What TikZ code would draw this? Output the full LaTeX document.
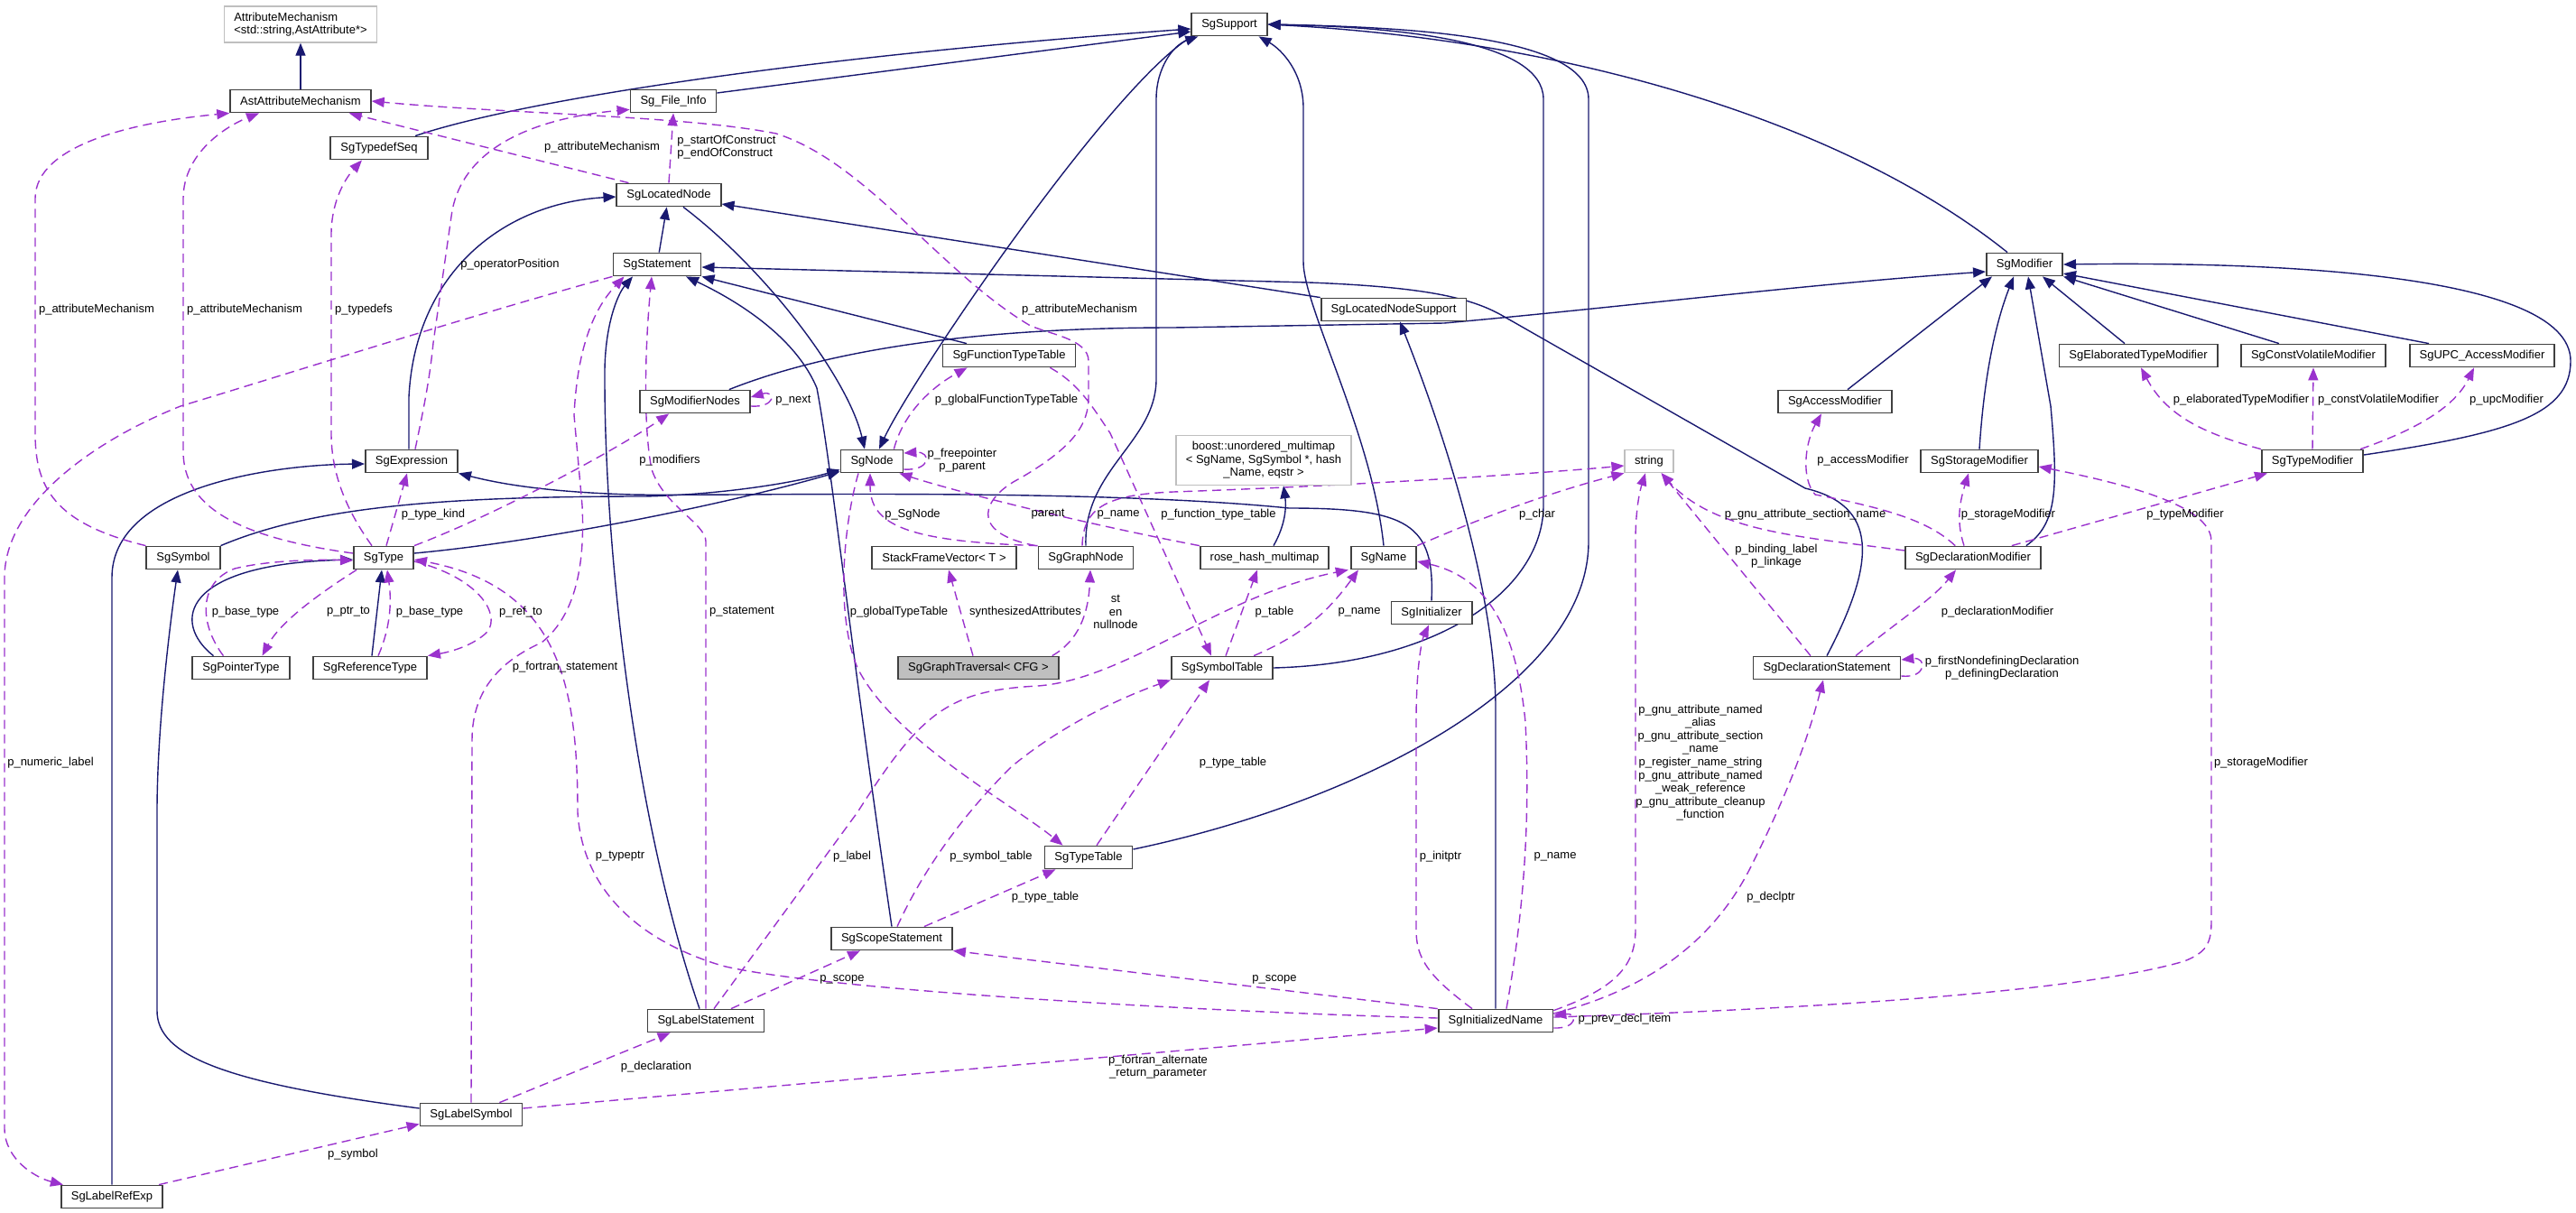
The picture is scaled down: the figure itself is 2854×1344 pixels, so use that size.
\documentclass[tikz,border=0pt]{standalone}
\usepackage{fontspec}
\setmainfont{Liberation Sans}
\usetikzlibrary{arrows.meta,calc,backgrounds}

\definecolor{inhblue}{HTML}{191970}
\definecolor{usepurple}{HTML}{9A32CD}
\definecolor{boxgray}{HTML}{BFBFBF}

\tikzset{
  cls/.style={draw=black!75, line width=0.9pt, fill=white, minimum height=12.5pt,
    inner xsep=5.5pt, inner ysep=0pt, font=\fontsize{6.5}{7.3}\selectfont},
  extcls/.style={cls, draw=boxgray, line width=0.7pt, align=left},
  inh/.style={color=inhblue, line width=0.7pt, -{Triangle[length=7pt,width=5.5pt]}},
  usage/.style={color=usepurple, line width=0.7pt, dash pattern=on 5pt off 3pt,
    -{Triangle[length=7pt,width=5.5pt]}},
  lbl/.style={font=\fontsize{6.5}{7.3}\selectfont, inner sep=0pt, align=center},
}

\begin{document}
\begin{tikzpicture}[x=0.5pt,y=-0.5pt]
\useasboundingbox (0,0) rectangle (2854,1344);

\node[extcls, minimum height=20pt] (attrmech) at (333,27) {AttributeMechanism\\<std::string,AstAttribute*>};
\node[cls] (astattr) at (333,112) {AstAttributeMechanism};
\node[cls] (typedefseq) at (420,164) {SgTypedefSeq};
\node[cls] (fileinfo) at (746,112) {Sg\_File\_Info};
\node[cls] (support) at (1362,27) {SgSupport};
\node[cls] (locnode) at (741,216) {SgLocatedNode};
\node[cls] (stmt) at (728,293) {SgStatement};
\node[cls] (locsupport) at (1544,343) {SgLocatedNodeSupport};
\node[cls] (modifier) at (2243,293) {SgModifier};
\node[cls] (functypetab) at (1118,394) {SgFunctionTypeTable};
\node[cls] (elabmod) at (2369,394) {SgElaboratedTypeModifier};
\node[cls] (cvmod) at (2563,394) {SgConstVolatileModifier};
\node[cls] (upcmod) at (2750,394) {SgUPC\_AccessModifier};
\node[cls] (modnodes) at (770,445) {SgModifierNodes};
\node[cls] (accmod) at (2033,445) {SgAccessModifier};
\node[cls] (expr) at (456,511) {SgExpression};
\node[cls] (sgnode) at (966,511) {SgNode};
\node[extcls, align=center, minimum height=27.5pt] (boostmap) at (1400,510) {boost::unordered\_multimap\\< SgName, SgSymbol *, hash\\\_Name, eqstr >};
\node[extcls] (string) at (1827,511) {string};
\node[cls] (storagemod) at (2193,511) {SgStorageModifier};
\node[cls] (typemod) at (2562,511) {SgTypeModifier};
\node[cls] (symbol) at (203,618) {SgSymbol};
\node[cls] (type) at (425,618) {SgType};
\node[cls] (stackvec) at (1046,618) {StackFrameVector< T >};
\node[cls] (graphnode) at (1203,618) {SgGraphNode};
\node[cls] (rosehash) at (1401,618) {rose\_hash\_multimap};
\node[cls] (name) at (1533,618) {SgName};
\node[cls] (declmod) at (2186,618) {SgDeclarationModifier};
\node[cls] (initializer) at (1586,679) {SgInitializer};
\node[cls] (ptrtype) at (267,740) {SgPointerType};
\node[cls] (reftype) at (410,740) {SgReferenceType};
\node[cls, fill=boxgray] (traversal) at (1084,740) {SgGraphTraversal< CFG >};
\node[cls] (symtab) at (1354,740) {SgSymbolTable};
\node[cls] (declstmt) at (2024,740) {SgDeclarationStatement};
\node[cls] (typetab) at (1206,950) {SgTypeTable};
\node[cls] (scopestmt) at (988,1040) {SgScopeStatement};
\node[cls] (labelstmt) at (782,1131) {SgLabelStatement};
\node[cls] (initname) at (1657,1131) {SgInitializedName};
\node[cls] (labelsym) at (522,1235) {SgLabelSymbol};
\node[cls] (labelref) at (124,1326) {SgLabelRefExp};

\begin{scope}[on background layer]
\draw[inh] (astattr) -- (attrmech);
\draw[inh] ($(typedefseq.north)+(40,0)$) .. controls (580,110) and (900,62) .. ($(support.west)+(0,5)$);
\draw[inh] ($(fileinfo.east)+(0,-9)$) -- ($(support.west)+(0,8)$);
\draw[inh] (stmt) -- (locnode);
\draw[inh] ($(locnode.south)+(16,0)$) .. controls (850,300) and (940,420) .. ($(sgnode.north)+(-8,0)$);
\draw[inh] ($(support.south west)+(1,0)$) .. controls (1230,95) and (1010,420) .. ($(sgnode.north)+(8,0)$);
\draw[inh] (graphnode.north) .. controls (1200,520) and (1281,490) .. (1281,420) -- (1281,110) .. controls (1281,75) and (1300,50) .. ($(support.south west)+(8,0)$);
\draw[inh] (name.north) .. controls (1520,480) and (1444,340) .. (1444,290) -- (1444,120) .. controls (1444,80) and (1420,55) .. ($(support.south east)+(-10,0)$);
\draw[inh] ($(modifier.north)+(-19,0)$) .. controls (2050,140) and (1750,45) .. (support.east);
\draw[inh] (symtab.east) .. controls (1600,735) and (1710,650) .. (1710,560) -- (1710,110) .. controls (1710,45) and (1550,30) .. (support.east);
\draw[inh] ($(typetab.east)+(0,-9)$) .. controls (1500,890) and (1760,760) .. (1760,600) -- (1760,110) .. controls (1760,40) and (1560,30) .. (support.east);
\draw[inh] (declstmt.north) .. controls (2080,620) and (2080,560) .. (2000,541) -- (1665,350) .. controls (1630,330) and (1580,318) .. (1450,313) -- ($(stmt.east)+(0,3)$);
\draw[inh] ($(functypetab.north)+(-47,0)$) -- (stmt.south east);
\draw[inh] (scopestmt.north) .. controls (940,700) and (922,520) .. (905,430) .. controls (880,370) and (810,330) .. ($(stmt.south)+(32,0)$);
\draw[inh] ($(labelstmt.north)+(-7,0)$) .. controls (700,900) and (670,600) .. (670,420) .. controls (669,360) and (685,325) .. ($(stmt.south)+(-27,0)$);
\draw[inh] ($(expr.north)+(-3,0)$) -- (453,440) .. controls (460,300) and (560,225) .. ($(locnode.west)+(0,2)$);
\draw[inh] (locsupport.north west) -- ($(locnode.east)+(0,10)$);
\draw[inh] ($(modnodes.north east)+(-24,0)$) .. controls (900,395) and (1050,363) .. (1300,363) -- (1600,358) .. controls (1800,340) and (2000,315) .. ($(modifier.west)+(0,8)$);
\draw[inh] ($(accmod.north)+(14,0)$) -- ($(modifier.south west)+(7,0)$);
\draw[inh] (storagemod.north) .. controls (2198,420) and (2210,360) .. ($(modifier.south)+(-12,0)$);
\draw[inh] ($(declmod.north east)+(-17,0)$) .. controls (2280,580) and (2280,540) .. (2272,450) -- ($(modifier.south)+(4,0)$);
\draw[inh] ($(elabmod.north)+(-15,0)$) -- ($(modifier.south east)+(-23,0)$);
\draw[inh] ($(cvmod.north)+(-38,0)$) -- (modifier.south east);
\draw[inh] ($(upcmod.north)+(-59,0)$) -- ($(modifier.east)+(0,10)$);
\draw[inh] ($(typemod.east)+(0,-7)$) .. controls (2780,480) and (2848,460) .. (2848,400) .. controls (2848,300) and (2500,290) .. (modifier.east);
\draw[inh] (symbol.north east) .. controls (350,560) and (500,550) .. (714,550) .. controls (800,548) and (880,535) .. ($(sgnode.south west)+(0,-4)$);
\draw[inh] ($(type.east)+(0,-5)$) .. controls (600,600) and (800,560) .. ($(sgnode.south west)+(0,-2)$);
\draw[inh] ($(ptrtype.north west)+(24,0)$) .. controls (190,690) and (200,625) .. ($(type.west)+(0,2)$);
\draw[inh] ($(reftype.north)+(2,0)$) -- ($(type.south)+(-2,0)$);
\draw[inh] ($(labelsym.west)+(0,-7)$) .. controls (250,1200) and (174,1170) .. (174,1120) -- (174,900) .. controls (174,800) and (190,680) .. ($(symbol.south)+(-6,0)$);
\draw[inh] (labelref.north) -- (124,640) .. controls (124,540) and (300,515) .. ($(expr.west)+(0,3)$);
\draw[inh] (initializer.north) .. controls (1590,580) and (1560,563) .. (1428,563) .. controls (1200,540) and (800,550) .. (700,548) .. controls (600,545) and (550,535) .. (expr.south east);
\draw[inh] (initname.north) -- (1657,780) .. controls (1655,650) and (1600,480) .. ($(locsupport.south)+(7,0)$);
\draw[inh] ($(rosehash.north)+(10,0)$) .. controls (1425,580) and (1425,560) .. ($(boostmap.south)+(22,0)$);

\draw[usage] (symbol.north west) .. controls (60,580) and (39,540) .. (39,480) -- (39,220) .. controls (39,160) and (150,135) .. (astattr.south west);
\draw[usage] ($(type.west)+(0,-5)$) .. controls (260,595) and (203,560) .. (203,500) -- (203,220) .. controls (203,170) and (250,140) .. ($(astattr.south)+(-46,0)$);
\draw[usage] ($(type.north)+(-13,0)$) .. controls (380,560) and (367,520) .. (367,480) -- (367,260) .. controls (367,220) and (385,195) .. ($(typedefseq.south)+(-19,0)$);
\draw[usage] ($(expr.north)+(4,0)$) .. controls (470,450) and (476,420) .. (480,380) -- (500,240) .. controls (510,160) and (600,130) .. ($(fileinfo.south west)+(0,-4)$);
\draw[usage] (locnode.north) -- (fileinfo.south);
\draw[usage] ($(locnode.north west)+(14,0)$) -- ($(astattr.south east)+(-25,0)$);
\draw[usage] ($(graphnode.north west)+(-2,0)$) .. controls (1070,590) and (1090,550) .. (1130,530) .. controls (1190,495) and (1206,470) .. (1206,440) -- (1206,400) .. controls (1206,375) and (1160,370) .. (1140,360) .. controls (1040,300) and (960,180) .. (860,148) .. controls (760,128) and (560,126) .. (astattr.east);
\draw[usage] (stmt.south west) .. controls (520,350) and (300,420) .. (200,450) .. controls (100,490) and (5,560) .. (5,640) -- (5,1250) .. controls (5,1285) and (40,1305) .. ($(labelref.north west)+(3,0)$);
\draw[usage] ($(modnodes.east)+(0,5)$) .. controls (860,452) and (860,432) .. ($(modnodes.east)+(0,-5)$);
\draw[usage] (type.north east) .. controls (550,570) and (680,500) .. ($(modnodes.south west)+(33,0)$);
\draw[usage] ($(sgnode.north east)+(-11,0)$) .. controls (1000,460) and (1030,430) .. ($(functypetab.south west)+(28,0)$);
\draw[usage] ($(sgnode.east)+(0,9)$) .. controls (1032,522) and (1032,500) .. ($(sgnode.east)+(0,-9)$);
\draw[usage] ($(sgnode.south)+(-15,0)$) .. controls (935,580) and (925,680) .. (950,740) .. controls (990,820) and (1120,890) .. ($(typetab.north west)+(21,0)$);
\draw[usage] (graphnode.north west) .. controls (1000,600) and (964,580) .. ($(sgnode.south)+(-2,0)$);
\draw[usage] (rosehash.north west) .. controls (1200,580) and (1060,545) .. ($(sgnode.south east)+(-5,0)$);
\draw[usage] ($(graphnode.north)+(-4,0)$) .. controls (1200,560) and (1230,548) .. (1300,545) .. controls (1500,538) and (1700,525) .. ($(string.west)+(0,5)$);
\draw[usage] ($(functypetab.south east)+(-29,0)$) .. controls (1195,425) and (1210,450) .. (1230,480) -- ($(symtab.north)+(-12,0)$);
\draw[usage] ($(traversal.north)+(-6,0)$) -- ($(stackvec.south)+(5,0)$);
\draw[usage] ($(traversal.north east)+(-8,0)$) .. controls (1195,710) and (1206,680) .. ($(graphnode.south)+(5,0)$);
\draw[usage] ($(symtab.north)+(4,0)$) -- ($(rosehash.south)+(-8,0)$);
\draw[usage] (name.north east) .. controls (1650,570) and (1720,545) .. (string.south west);
\draw[usage] ($(labelstmt.north)+(9,0)$) -- (950,900) .. controls (1020,790) and (1050,765) .. (1150,760) .. controls (1250,752) and (1350,660) .. ($(name.south west)+(-2,0)$);
\draw[usage] ($(symtab.north east)+(-22,0)$) .. controls (1440,705) and (1470,680) .. ($(name.south)+(-28,0)$);
\draw[usage] ($(initname.north)+(12,0)$) .. controls (1690,1000) and (1695,900) .. (1690,800) .. controls (1680,700) and (1650,640) .. ($(name.east)+(0,4)$);
\draw[usage] ($(initname.north)+(-26,0)$) .. controls (1580,1080) and (1569,1060) .. (1569,1030) -- (1569,800) .. controls (1569,740) and (1575,710) .. ($(initializer.south)+(-3,0)$);
\draw[usage] ($(initname.north east)+(0,2)$) .. controls (1790,1095) and (1812,1070) .. (1812,1030) -- (1812,600) .. controls (1812,560) and (1818,540) .. ($(string.south)+(-4,0)$);
\draw[usage] ($(declstmt.north)+(-18,0)$) -- ($(string.south east)+(-14,0)$);
\draw[usage] ($(declmod.west)+(0,-8)$) .. controls (2000,595) and (1900,590) .. ($(string.south east)+(-14,0)$);
\draw[usage] ($(declmod.north west)+(56,0)$) .. controls (2140,580) and (2100,565) .. (2011,548) .. controls (1995,530) and (2000,490) .. ($(accmod.south)+(-15,0)$);
\draw[usage] ($(declmod.north)+(-10,0)$) .. controls (2168,580) and (2170,560) .. ($(storagemod.south)+(-12,0)$);
\draw[usage] ($(declmod.north east)+(-33,0)$) -- ($(typemod.south west)+(7,0)$);
\draw[usage] ($(initname.east)+(0,-4)$) .. controls (2000,1118) and (2300,1100) .. (2420,1065) .. controls (2445,1055) and (2450,1045) .. (2450,1020) -- (2450,600) .. controls (2450,570) and (2400,545) .. ($(storagemod.east)+(0,6)$);
\draw[usage] (typemod.north west) .. controls (2440,480) and (2400,460) .. ($(elabmod.south)+(3,0)$);
\draw[usage] (typemod.north) -- (cvmod.south);
\draw[usage] ($(typemod.north east)+(-4,0)$) .. controls (2680,475) and (2720,450) .. ($(upcmod.south)+(-9,0)$);
\draw[usage] ($(declstmt.north)+(32,0)$) .. controls (2100,690) and (2140,665) .. ($(declmod.south)+(-19,0)$);
\draw[usage] ($(declstmt.east)+(0,9)$) .. controls (2135,752) and (2135,728) .. ($(declstmt.east)+(0,-9)$);
\draw[usage] ($(initname.east)+(0,-8)$) .. controls (1830,1095) and (1900,1040) .. (1940,960) .. controls (1975,890) and (2000,830) .. ($(declstmt.south)+(-4,0)$);
\draw[usage] ($(initname.east)+(0,8)$) .. controls (1748,1140) and (1748,1122) .. ($(initname.east)+(0,-6)$);
\draw[usage] (initname.north west) -- (scopestmt.south east);
\draw[usage] ($(initname.west)+(0,-3)$) .. controls (1300,1120) and (900,1095) .. (800,1070) .. controls (700,1040) and (645,980) .. (640,900) .. controls (640,760) and (620,650) .. ($(type.east)+(0,2)$);
\draw[usage] ($(labelsym.east)+(0,-7)$) -- ($(initname.west)+(0,8)$);
\draw[usage] ($(labelsym.north east)+(-26,0)$) -- ($(labelstmt.south west)+(26,0)$);
\draw[usage] ($(labelref.north east)+(-5,0)$) -- ($(labelsym.south west)+(0,-3)$);
\draw[usage] (labelsym.north) -- (523,820) .. controls (523,760) and (560,730) .. (600,712) .. controls (640,680) and (648,620) .. (645,560) -- (636,460) .. controls (640,380) and (660,340) .. ($(stmt.south west)+(13,0)$);
\draw[usage] (labelstmt.north) -- (782,600) .. controls (782,580) and (735,560) .. (722,520) .. controls (712,470) and (715,380) .. ($(stmt.south)+(-6,0)$);
\draw[usage] ($(typetab.north)+(9,0)$) -- ($(symtab.south)+(-14,0)$);
\draw[usage] ($(scopestmt.north)+(6,0)$) .. controls (1020,970) and (1060,910) .. (1120,850) .. controls (1180,800) and (1250,770) .. (symtab.south west);
\draw[usage] ($(scopestmt.north east)+(-32,0)$) -- ($(typetab.south west)+(13,0)$);
\draw[usage] ($(labelstmt.north)+(28,0)$) -- ($(scopestmt.south)+(-35,0)$);
\draw[usage] ($(ptrtype.north west)+(35,0)$) .. controls (220,690) and (220,645) .. (260,630) .. controls (300,620) and (360,620) .. ($(type.west)+(0,3)$);
\draw[usage] ($(type.south west)+(4,0)$) .. controls (350,660) and (310,690) .. ($(ptrtype.north east)+(-31,0)$);
\draw[usage] ($(reftype.north)+(9,0)$) .. controls (435,690) and (433,660) .. ($(type.south)+(4,0)$);
\draw[usage] ($(type.east)+(0,4)$) .. controls (530,640) and (555,680) .. (540,700) .. controls (525,715) and (500,722) .. (reftype.north east);
\draw[usage] ($(type.north)+(3,0)$) -- ($(expr.south)+(-5,0)$);
\end{scope}

\node[lbl] (lattr1) at (107,343) {p\_attributeMechanism};
\node[lbl] (lattr2) at (271,343) {p\_attributeMechanism};
\node[lbl] (ltypedefs) at (403,343) {p\_typedefs};
\node[lbl] (loperpos) at (565,293) {p\_operatorPosition};
\node[lbl] (lattr3) at (667,163) {p\_attributeMechanism};
\node[lbl, anchor=west, align=left] (lconstruct) at (750,163) {p\_startOfConstruct\\p\_endOfConstruct};
\node[lbl] (lattr4) at (1196,343) {p\_attributeMechanism};
\node[lbl] (lnext) at (879,444) {p\_next};
\node[lbl] (lglobfunc) at (1115,443) {p\_globalFunctionTypeTable};
\node[lbl] (lmodifiers) at (742,510) {p\_modifiers};
\node[lbl] (lfreeptr) at (1066,510) {p\_freepointer\\p\_parent};
\node[lbl] (ltypekind) at (480,570) {p\_type\_kind};
\node[lbl] (lsgnode) at (1011,570) {p\_SgNode};
\node[lbl] (lparent) at (1161,570) {parent};
\node[lbl] (lname1) at (1239,570) {p\_name};
\node[lbl] (lfunctab) at (1350,570) {p\_function\_type\_table};
\node[lbl] (lchar) at (1703,570) {p\_char};
\node[lbl] (lsection) at (2000,570) {p\_gnu\_attribute\_section\_name};
\node[lbl] (lstorage1) at (2225,570) {p\_storageModifier};
\node[lbl] (ltypemod) at (2421,570) {p\_typeModifier};
\node[lbl] (laccess) at (2064,510) {p\_accessModifier};
\node[lbl] (lbinding) at (1968,616) {p\_binding\_label\\p\_linkage};
\node[lbl] (lelab) at (2483,443) {p\_elaboratedTypeModifier};
\node[lbl] (lconstvol) at (2635,443) {p\_constVolatileModifier};
\node[lbl] (lupc) at (2777,443) {p\_upcModifier};
\node[lbl] (lbase1) at (272,678) {p\_base\_type};
\node[lbl] (lptrto) at (386,678) {p\_ptr\_to};
\node[lbl] (lbase2) at (476,678) {p\_base\_type};
\node[lbl] (lrefto) at (577,678) {p\_ref\_to};
\node[lbl] (lstatement) at (822,678) {p\_statement};
\node[lbl] (lglobtype) at (996,678) {p\_globalTypeTable};
\node[lbl] (lsynth) at (1136,678) {synthesizedAttributes};
\node[lbl] (lstennull) at (1236,678) {st\\en\\nullnode};
\node[lbl] (ltable) at (1412,678) {p\_table};
\node[lbl] (lname2) at (1506,678) {p\_name};
\node[lbl] (ldeclmod) at (2213,678) {p\_declarationModifier};
\node[lbl] (ldefining) at (2218,740) {p\_firstNondefiningDeclaration\\p\_definingDeclaration};
\node[lbl] (lfortstmt) at (626,739) {p\_fortran\_statement};
\node[lbl] (lgnu) at (1884,845) {p\_gnu\_attribute\_named\\\_alias\\p\_gnu\_attribute\_section\\\_name\\p\_register\_name\_string\\p\_gnu\_attribute\_named\\\_weak\_reference\\p\_gnu\_attribute\_cleanup\\\_function};
\node[lbl] (lnumeric) at (56,845) {p\_numeric\_label};
\node[lbl] (ltypetab1) at (1366,845) {p\_type\_table};
\node[lbl] (lstorage2) at (2505,845) {p\_storageModifier};
\node[lbl] (ltypeptr) at (687,949) {p\_typeptr};
\node[lbl] (llabel) at (944,949) {p\_label};
\node[lbl] (lsymtab) at (1098,949) {p\_symbol\_table};
\node[lbl] (linitptr) at (1596,949) {p\_initptr};
\node[lbl] (lname3) at (1723,949) {p\_name};
\node[lbl] (ltypetab2) at (1158,994) {p\_type\_table};
\node[lbl] (ldeclptr) at (1962,994) {p\_declptr};
\node[lbl] (lscope1) at (933,1085) {p\_scope};
\node[lbl] (lscope2) at (1412,1085) {p\_scope};
\node[lbl] (lprevdecl) at (1800,1129) {p\_prev\_decl\_item};
\node[lbl] (lfortalt) at (1283,1182) {p\_fortran\_alternate\\\_return\_parameter};
\node[lbl] (ldecl) at (727,1182) {p\_declaration};
\node[lbl] (lsymbol) at (391,1279) {p\_symbol};
\end{tikzpicture}
\end{document}
